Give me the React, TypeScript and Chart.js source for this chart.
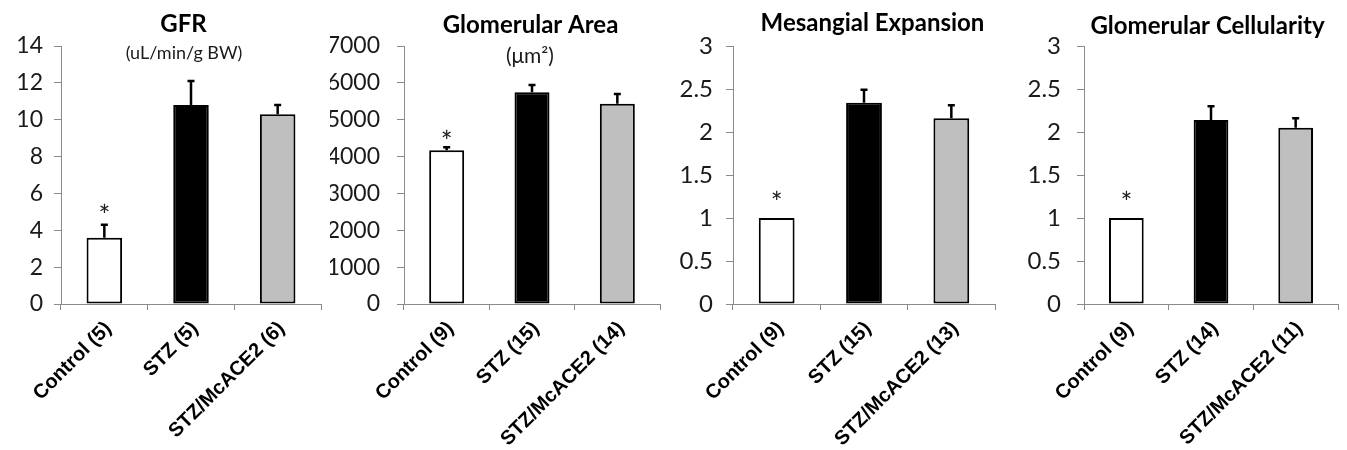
import React, { useEffect, useRef } from "react";
import { Chart, registerables } from "chart.js";

Chart.register(...registerables);

// ---------- data ----------
const gfrCategories = ["Control (5)", "STZ (5)", "STZ/McACE2 (6)"];
const gfrValues = [3.6, 10.8, 10.3];
const gfrErrors = [0.7, 1.3, 0.5];
const gfrMarks = ["*", "", ""];
const gfrTicks = { max: 14, step: 2 };

const areaCategories = ["Control (9)", "STZ (15)", "STZ/McACE2 (14)"];
const areaValues = [4170, 5745, 5430];
const areaErrors = [80, 195, 270];
const areaMarks = ["*", "", ""];
const areaTicks = { max: 7000, step: 1000 };

const mesangialCategories = ["Control (9)", "STZ (15)", "STZ/McACE2 (13)"];
const mesangialValues = [1.0, 2.34, 2.16];
const mesangialErrors = [0, 0.15, 0.15];
const mesangialMarks = ["*", "", ""];
const mesangialTicks = { max: 3, step: 0.5 };

const cellularityCategories = ["Control (9)", "STZ (14)", "STZ/McACE2 (11)"];
const cellularityValues = [1.0, 2.14, 2.05];
const cellularityErrors = [0, 0.16, 0.11];
const cellularityMarks = ["*", "", ""];
const cellularityTicks = { max: 3, step: 0.5 };

const barColors = ["#ffffff", "#000000", "#bfbfbf"];

type PanelDef = {
  title: string;
  subtitle: string;
  categories: string[];
  values: number[];
  errors: number[];
  marks: string[];
  ticks: { max: number; step: number };
  // layout / style
  left: number;
  width: number;
  axisWidth: number;
  padRight: number;
  tickFont: number;
  tickPad: number;
  titleDx: number;
  titleBase: number;
  subDx: number;
  subBase: number;
  subSize: number;
  markOffset: number;
};

const panels: PanelDef[] = [
  {
    title: "GFR", subtitle: "(uL/min/g BW)",
    categories: gfrCategories, values: gfrValues, errors: gfrErrors, marks: gfrMarks, ticks: gfrTicks,
    left: 0, width: 330, axisWidth: 61, padRight: 9, tickFont: 23, tickPad: 11,
    titleDx: -7.5, titleBase: 32, subDx: -7, subBase: 59, subSize: 18, markOffset: 15,
  },
  {
    title: "Glomerular Area", subtitle: "(\u03bcm\u00b2)",
    categories: areaCategories, values: areaValues, errors: areaErrors, marks: areaMarks, ticks: areaTicks,
    left: 330, width: 335, axisWidth: 74, padRight: 5, tickFont: 23, tickPad: 17,
    titleDx: -1.5, titleBase: 33, subDx: -2, subBase: 63, subSize: 21, markOffset: 11,
  },
  {
    title: "Mesangial Expansion", subtitle: "",
    categories: mesangialCategories, values: mesangialValues, errors: mesangialErrors, marks: mesangialMarks, ticks: mesangialTicks,
    left: 665, width: 335, axisWidth: 68, padRight: 5, tickFont: 24, tickPad: 13,
    titleDx: 8.5, titleBase: 30.5, subDx: 0, subBase: 0, subSize: 18, markOffset: 21,
  },
  {
    title: "Glomerular Cellularity", subtitle: "",
    categories: cellularityCategories, values: cellularityValues, errors: cellularityErrors, marks: cellularityMarks, ticks: cellularityTicks,
    left: 1000, width: 347, axisWidth: 84, padRight: 9, tickFont: 24, tickPad: 16,
    titleDx: -3.5, titleBase: 34, subDx: 0, subBase: 0, subSize: 18, markOffset: 21,
  },
];

const AXIS_COLOR = "#8a8a8a";
const TEXT_COLOR = "#1a1a1a";
const CANVAS_H = 450;
const AXIS_Y = 304;

function Panel({ def }: { def: PanelDef }) {
  const ref = useRef<HTMLCanvasElement | null>(null);

  useEffect(() => {
    if (!ref.current) return;

    const annotate = {
      id: "annotate",
      afterDatasetsDraw(chart: any) {
        const ctx = chart.ctx;
        const y = chart.scales.y;
        const meta = chart.getDatasetMeta(0);
        ctx.save();
        // error bars (upper whisker only)
        ctx.strokeStyle = "#000";
        ctx.lineWidth = 2.5;
        meta.data.forEach((bar: any, i: number) => {
          const err = def.errors[i];
          if (!err) return;
          const top = y.getPixelForValue(def.values[i] + err);
          ctx.beginPath();
          ctx.moveTo(bar.x, bar.y);
          ctx.lineTo(bar.x, top);
          ctx.moveTo(bar.x - 3.5, top);
          ctx.lineTo(bar.x + 3.5, top);
          ctx.stroke();
        });
        // significance marks
        ctx.fillStyle = TEXT_COLOR;
        ctx.font = "28px Lato";
        ctx.textAlign = "center";
        ctx.textBaseline = "alphabetic";
        meta.data.forEach((bar: any, i: number) => {
          const m = def.marks[i];
          if (!m) return;
          const top = y.getPixelForValue(def.values[i] + def.errors[i]);
          ctx.fillText(m, bar.x, top - def.markOffset + 16);
        });
        // titles
        const ca = chart.chartArea;
        const cx = (ca.left + ca.right) / 2;
        ctx.fillStyle = "#000";
        ctx.font = "bold 24px Lato";
        ctx.fillText(def.title, cx + def.titleDx, def.titleBase);
        if (def.subtitle) {
          ctx.fillStyle = TEXT_COLOR;
          ctx.font = `${def.subSize}px Lato`;
          ctx.fillText(def.subtitle, cx + def.subDx, def.subBase);
        }
        ctx.restore();
      },
    };

    const chart = new Chart(ref.current, {
      type: "bar",
      data: {
        labels: def.categories,
        datasets: [
          {
            data: def.values,
            backgroundColor: barColors,
            borderColor: "#000",
            borderWidth: 2,
            borderSkipped: false,
            barPercentage: 0.41,
            categoryPercentage: 1,
          },
        ],
      },
      options: {
        responsive: false,
        animation: false,
        events: [],
        layout: { padding: { top: 46, right: def.padRight, left: 0, bottom: 0 } },
        plugins: { legend: { display: false }, tooltip: { enabled: false }, title: { display: false } },
        scales: {
          x: {
            offset: true,
            grid: { display: true, drawOnChartArea: false, drawTicks: true, tickLength: 6, color: AXIS_COLOR, offset: true },
            border: { display: true, color: AXIS_COLOR, width: 1 },
            ticks: {
              minRotation: 45,
              maxRotation: 45,
              autoSkip: false,
              padding: 7,
              labelOffset: 4,
              color: "#000",
              font: { family: "'Liberation Sans', Arial, sans-serif", size: 20, weight: "bold" },
            },
            afterFit: (s: any) => { s.height = CANVAS_H - AXIS_Y; },
          },
          y: {
            min: 0,
            max: def.ticks.max,
            grid: { display: true, drawOnChartArea: false, drawTicks: true, tickLength: 7, color: AXIS_COLOR },
            border: { display: true, color: AXIS_COLOR, width: 1 },
            ticks: {
              stepSize: def.ticks.step,
              padding: def.tickPad,
              color: TEXT_COLOR,
              font: { family: "Lato", size: def.tickFont },
              callback: (v: any) => String(Math.round(Number(v) * 100) / 100),
            },
            afterFit: (s: any) => { s.width = def.axisWidth; },
          },
        },
      } as any,
      plugins: [annotate],
    });
    return () => chart.destroy();
  }, [def]);

  return (
    <canvas
      ref={ref}
      width={def.width}
      height={CANVAS_H}
      style={{ position: "absolute", left: def.left, top: 0, width: def.width, height: CANVAS_H }}
    />
  );
}

export default function App() {
  return (
    <div style={{ position: "fixed", left: 0, top: 0, width: 1347, height: CANVAS_H, background: "#fff" }}>
      {panels.map((p) => (
        <Panel key={p.title} def={p} />
      ))}
    </div>
  );
}
